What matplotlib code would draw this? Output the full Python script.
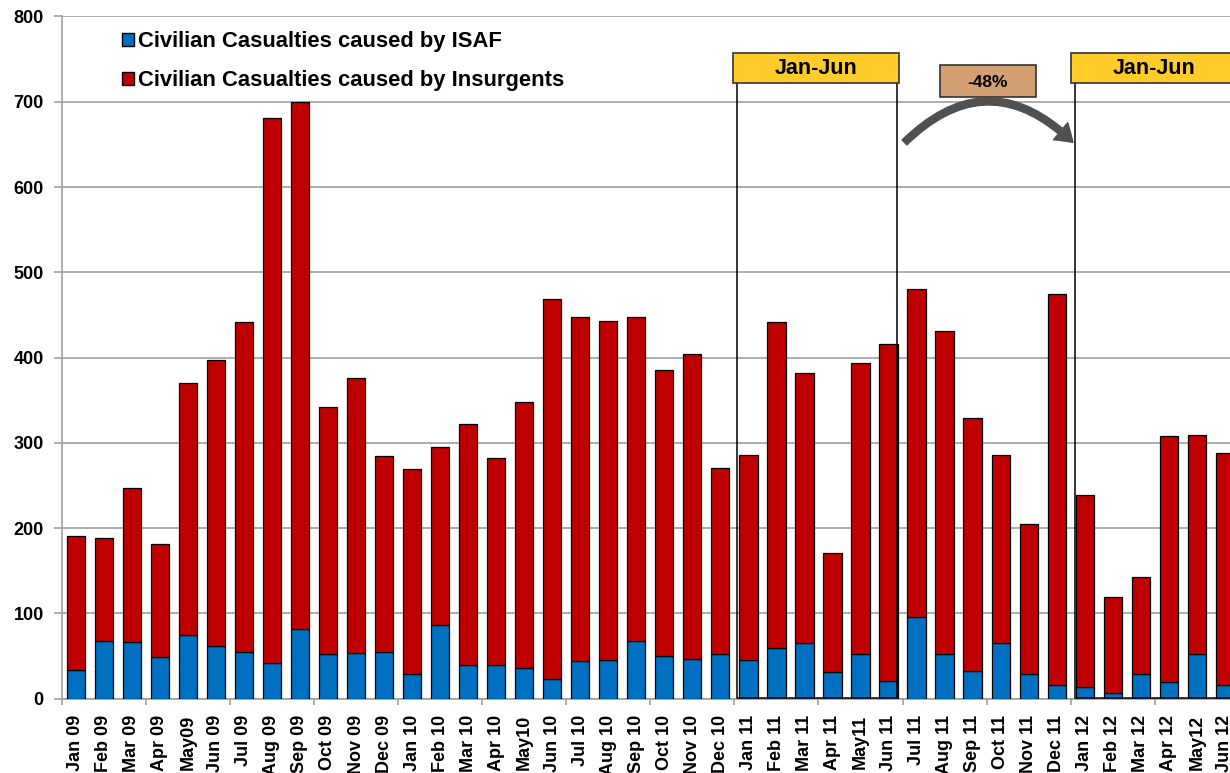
import numpy as np
import matplotlib.pyplot as plt
from matplotlib.patches import Patch, Rectangle, FancyArrowPatch

plt.rcParams['font.family'] = ['Liberation Sans', 'DejaVu Sans']
plt.rcParams['font.weight'] = 'bold'

# monthly civilian casualties, Jan 2009 - Jun 2012
months = ['Jan 09', 'Feb 09', 'Mar 09', 'Apr 09', 'May09', 'Jun 09',
          'Jul 09', 'Aug 09', 'Sep 09', 'Oct 09', 'Nov 09', 'Dec 09',
          'Jan 10', 'Feb 10', 'Mar 10', 'Apr 10', 'May10', 'Jun 10',
          'Jul 10', 'Aug 10', 'Sep 10', 'Oct 10', 'Nov 10', 'Dec 10',
          'Jan 11', 'Feb 11', 'Mar 11', 'Apr 11', 'May11', 'Jun 11',
          'Jul 11', 'Aug 11', 'Sep 11', 'Oct 11', 'Nov 11', 'Dec 11',
          'Jan 12', 'Feb 12', 'Mar 12', 'Apr 12', 'May12', 'Jun 12']
isaf = [34, 68, 66, 49, 75, 62, 55, 42, 82, 52, 54, 55,
        29, 87, 39, 39, 36, 23, 44, 45, 68, 50, 47, 52,
        45, 59, 65, 31, 52, 21, 96, 52, 32, 65, 29, 16,
        14, 7, 29, 20, 52, 16]
insurgents = [157, 121, 181, 133, 295, 335, 387, 639, 618, 290, 322, 230,
              240, 208, 283, 243, 312, 446, 404, 398, 380, 335, 357, 218,
              241, 383, 317, 140, 342, 395, 385, 379, 297, 221, 176, 458,
              225, 112, 114, 288, 257, 272]

change_label = '-48%'
period_label = 'Jan-Jun'

blue = '#0070C0'
red = '#C00000'
grid_col = '#a0a0a0'

fig = plt.figure(figsize=(12.3, 7.73), dpi=100)
ax = fig.add_axes([0.0502, 0.0961, 0.957, 0.8826])

x = np.arange(len(months))
w = 0.65
ax.bar(x, isaf, w, color=blue, edgecolor='black', linewidth=0.9, zorder=3)
ax.bar(x, insurgents, w, bottom=isaf, color=red, edgecolor='black',
       linewidth=0.9, zorder=3)

ax.set_xlim(-0.5, len(months) - 0.5)
ax.set_ylim(0, 800)
ax.set_yticks(range(0, 801, 100))
ax.yaxis.grid(True, color=grid_col, linewidth=1.2, zorder=0)
ax.set_axisbelow(True)

ax.set_xticks(x)
ax.set_xticklabels(months, rotation=90, fontsize=13, fontweight='bold')
ax.tick_params(axis='x', which='major', length=0, pad=11.5)
ax.set_xticks(np.arange(-0.5, len(months), 3), minor=True)
ax.tick_params(axis='x', which='minor', length=4.5, width=1.2,
               color=grid_col, direction='out')
ax.tick_params(axis='y', length=6, width=1.2, color=grid_col, pad=7,
               labelsize=13)
for lab in ax.get_yticklabels():
    lab.set_fontweight('bold')

for s in ['top', 'right']:
    ax.spines[s].set_visible(False)
ax.spines['left'].set_color(grid_col)
ax.spines['left'].set_linewidth(1.2)
ax.spines['bottom'].set_color(grid_col)
ax.spines['bottom'].set_linewidth(1.2)

# Jan-Jun brackets for 2011 and 2012
for x0, x1 in [(24 - 0.42, 29 + 0.32), (36 - 0.36, 42.5)]:
    ax.plot([x0, x0, x1, x1], [722, 0.5, 0.5, 722], color='black',
            linewidth=1.1, zorder=4, clip_on=False)

for bx in [23.44, 35.5]:
    ax.add_patch(Rectangle((bx, 722), 5.92, 35, facecolor='#FFCC29',
                           edgecolor='#333333', linewidth=1.2, zorder=5,
                           clip_on=False))
    ax.text(bx + 2.96, 739.5, period_label, ha='center', va='center',
            fontsize=15.5, fontweight='bold', zorder=6, clip_on=False)

# year-on-year change badge and curved arrow
ax.add_patch(Rectangle((30.83, 705.5), 3.43, 37.5, facecolor='#D2A073',
                       edgecolor='#333333', linewidth=1.2, zorder=5,
                       clip_on=False))
ax.text(32.545, 723, change_label, ha='center', va='center', fontsize=12.5,
        fontweight='bold', zorder=6, clip_on=False)

arrow = FancyArrowPatch((29.5, 650), (35.65, 650),
                        connectionstyle='arc3,rad=-0.5',
                        arrowstyle='simple,head_length=0.6,head_width=0.8,tail_width=0.25',
                        mutation_scale=20, color='#505050', zorder=5,
                        clip_on=False)
ax.add_patch(arrow)

handles = [Patch(facecolor=blue, edgecolor='black', linewidth=1.0),
           Patch(facecolor=red, edgecolor='black', linewidth=1.0)]
fig.legend(handles, ['Civilian Casualties caused by ISAF',
                     'Civilian Casualties caused by Insurgents'],
           loc='upper left', bbox_to_anchor=(121.7 / 1230, 1 - 31.5 / 773),
           frameon=False, handlelength=0.55, handleheight=0.55,
           handletextpad=0.2, labelspacing=0.82, borderpad=0, borderaxespad=0,
           prop={'weight': 'bold', 'size': 15.8})

fig.savefig('out.png', dpi=100)
